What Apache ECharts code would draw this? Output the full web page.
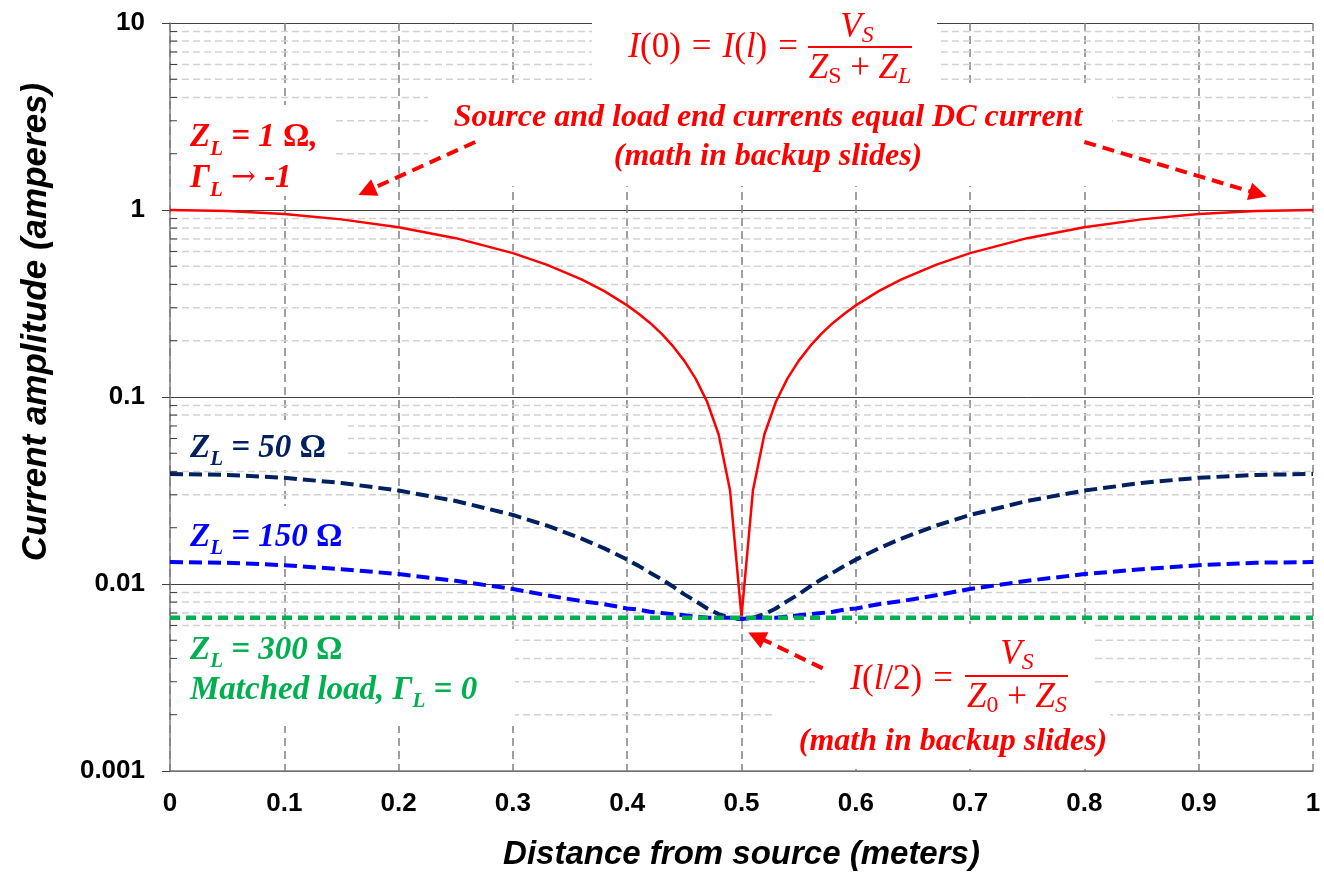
<!DOCTYPE html>
<html><head><meta charset="utf-8">
<script src="https://cdn.jsdelivr.net/npm/echarts@6/dist/echarts.min.js"></script>
<style>html,body{margin:0;padding:0;background:#fff}#c{width:1324px;height:878px}</style>
</head><body><div id="c"></div>
<script>
// ---- data ----
const distance = [0,0.05,0.1,0.15,0.2,0.25,0.3,0.33,0.36,0.38,0.4,0.41,0.42,0.43,0.44,0.45,0.46,0.47,0.48,0.49,0.5,0.51,0.52,0.53,0.54,0.55,0.56,0.57,0.58,0.59,0.6,0.62,0.64,0.67,0.7,0.75,0.8,0.85,0.9,0.95,1];
const zl1Ohm   = [1.0,0.988,0.951,0.891,0.809,0.707,0.588,0.509,0.426,0.368,0.309,0.279,0.249,0.218,0.187,0.156,0.125,0.094,0.063,0.0316,0.0067,0.0316,0.063,0.094,0.125,0.156,0.187,0.218,0.249,0.279,0.309,0.368,0.426,0.509,0.588,0.707,0.809,0.891,0.951,0.988,1.0];
const zl50Ohm  = [0.0388,0.0383,0.0370,0.0347,0.0316,0.0278,0.0234,0.0205,0.0175,0.0155,0.0135,0.0125,0.0115,0.0106,0.0097,0.0088,0.0081,0.0074,0.0069,0.0066,0.0065,0.0066,0.0069,0.0074,0.0081,0.0088,0.0097,0.0106,0.0115,0.0125,0.0135,0.0155,0.0175,0.0205,0.0234,0.0278,0.0316,0.0347,0.0370,0.0383,0.0388];
const zl150Ohm = [0.0131,0.0130,0.0126,0.0120,0.0113,0.0104,0.0094,0.0087,0.0081,0.0078,0.0074,0.0073,0.0071,0.0070,0.0069,0.0068,0.0067,0.0066,0.0066,0.0066,0.0065,0.0066,0.0066,0.0066,0.0067,0.0068,0.0069,0.0070,0.0071,0.0073,0.0074,0.0078,0.0081,0.0087,0.0094,0.0104,0.0113,0.0120,0.0126,0.0130,0.0131];
const zl300Ohm = distance.map(() => 0.0066); // flat matched-load line read at 0.0066 A
const yTickLabels = ['0.001','0.01','0.1','1','10'];
const yMinorValues = [0.002,0.003,0.004,0.005,0.006,0.007,0.008,0.009,0.02,0.03,0.04,0.05,0.06,0.07,0.08,0.09,0.2,0.3,0.4,0.5,0.6,0.7,0.8,0.9,2,3,4,5,6,7,8,9];
// annotation arrows (tail, head) in data coordinates
const arrows = [
  [[0.267, 2.31], [0.172, 1.26]],
  [[0.800, 2.31], [0.952, 1.22]],
  [[0.571, 0.00354], [0.513, 0.00525]]
];

const pair = ys => distance.map((x, i) => [x, ys[i]]);
const RED = '#ff0000', NAVY = '#002060', BLUE = '#0000ff', GREEN = '#00b050';
const SERIF = 'Liberation Serif', SANS = 'Liberation Sans';

function subRich(color, size, sub, lh) {
  const base = {fill: color, fontFamily: SERIF, fontWeight: 'bold', fontStyle: 'italic', fontSize: size, lineHeight: lh};
  return {
    m: base,
    o: Object.assign({}, base, {fontStyle: 'normal'}),
    ar: {fill: color, fontFamily: 'DejaVu Serif', fontSize: size * 0.9, lineHeight: lh},
    s: Object.assign({}, base, {fontSize: sub, padding: [24, 0, 0, 0]})
  };
}
function mathRich(size) {
  return {
    it: {fill: RED, fontFamily: SERIF, fontStyle: 'italic', fontSize: size},
    up: {fill: RED, fontFamily: SERIF, fontSize: size},
    eq: {fill: RED, fontFamily: SERIF, fontSize: size, padding: [0, 11, 0, 11]},
    si: {fill: RED, fontFamily: SERIF, fontStyle: 'italic', fontSize: size * 0.68, padding: [15, 0, 0, 0]},
    su: {fill: RED, fontFamily: SERIF, fontSize: size * 0.68, padding: [15, 0, 0, 0]}
  };
}
function box(x1, y1, x2, y2) {
  return {type: 'rect', z: 1, silent: true, shape: {x: x1, y: y1, width: x2 - x1, height: y2 - y1}, style: {fill: '#fff'}};
}
function txt(x, y, text, rich, align, va, extra) {
  return {type: 'text', z: 10, silent: true, x: x, y: y,
    style: Object.assign({text: text, rich: rich, align: align, verticalAlign: va}, extra || {})};
}

const chart = echarts.init(document.getElementById('c'), null, {renderer: 'canvas'});
const labelFont = {fontFamily: SANS, fontSize: 26, fontWeight: 'bold', color: '#000'};
const nameFont = {fontFamily: SANS, fontSize: 33, fontWeight: 'bold', fontStyle: 'italic', color: '#000'};

chart.setOption({
  animation: false,
  backgroundColor: '#fff',
  grid: {left: 170, right: 11, top: 23, bottom: 107},
  xAxis: {
    type: 'value', min: 0, max: 1, interval: 0.1,
    name: 'Distance from source (meters)', nameLocation: 'middle', nameGap: 67,
    nameTextStyle: nameFont,
    axisLine: {lineStyle: {color: '#7f7f7f', width: 1.5}},
    axisTick: {show: false},
    axisLabel: Object.assign({margin: 20}, labelFont),
    splitLine: {show: true, lineStyle: {color: '#808080', width: 1.5, type: [8, 5]}}
  },
  yAxis: {
    type: 'log', logBase: 10, min: 0.001, max: 10,
    name: 'Current amplitude (amperes)', nameLocation: 'middle', nameGap: 116,
    nameTextStyle: {fontFamily: SANS, fontSize: 35, fontWeight: 'bold', fontStyle: 'italic', color: '#000', padding: [0, 0, 0, 150]},
    axisLine: {show: true, lineStyle: {color: '#7f7f7f', width: 1.5}},
    axisTick: {show: true, length: 8, lineStyle: {color: '#404040', width: 1}},
    axisLabel: Object.assign({margin: 25, formatter: v => yTickLabels[Math.round(Math.log10(v)) + 3]}, labelFont),
    splitLine: {show: true, lineStyle: {color: '#404040', width: 1}},
    minorTick: {show: false}, minorSplitLine: {show: false}
  },
  series: [
    {
      type: 'custom', z: 0, silent: true, clip: false,
      data: yMinorValues.map(v => [0, v]), encode: {x: 0, y: 1},
      renderItem: (p, api) => {
        const a = api.coord([0, api.value(1)]), b = api.coord([1, api.value(1)]);
        return {type: 'line', shape: {x1: a[0] + 1, y1: a[1], x2: b[0], y2: b[1]},
          style: {stroke: '#d2d2d2', lineWidth: 1.5, lineDash: [7, 4]}};
      }
    },
    {
      type: 'custom', z: 5, silent: true, clip: false,
      data: yMinorValues.map(v => [0, v]), encode: {x: 0, y: 1},
      renderItem: (p, api) => {
        const a = api.coord([0, api.value(1)]);
        return {type: 'line', shape: {x1: a[0], y1: a[1], x2: a[0] + 7, y2: a[1]},
          style: {stroke: '#404040', lineWidth: 1}};
      }
    },
    {
      name: 'ZL = 1', type: 'line', z: 2, data: pair(zl1Ohm), showSymbol: false, symbol: 'none',
      lineStyle: {color: RED, width: 2.5},
      markLine: {
        silent: true, symbol: ['none', 'triangle'], symbolSize: [18, 18], label: {show: false},
        lineStyle: {color: RED, width: 4, type: [12, 7]},
        emphasis: {disabled: true},
        data: arrows.map(a => [{coord: a[0]}, {coord: a[1]}])
      }
    },
    {name: 'ZL = 50', type: 'line', z: 3, data: pair(zl50Ohm), symbol: 'none', lineStyle: {color: NAVY, width: 4, type: [13, 6]}},
    {name: 'ZL = 150', type: 'line', z: 3, data: pair(zl150Ohm), symbol: 'none', lineStyle: {color: BLUE, width: 4, type: [13, 6]}},
    {name: 'ZL = 300', type: 'line', z: 4, data: pair(zl300Ohm), symbol: 'none', lineStyle: {color: GREEN, width: 4.5, type: [10, 6]}}
  ],
  graphic: [
    // white backgrounds of the text boxes (hide grid lines)
    box(592, 4, 937, 83), box(428, 83, 1112, 186), box(172, 105, 335, 196),
    box(172, 420, 348, 470), box(172, 506, 352, 556), box(172, 630, 515, 726),
    box(815, 624, 1093, 705), box(773, 705, 1110, 769),
    // top formula I(0) = I(l) = Vs / (Zs + ZL)
    txt(809, 48, '{it|I}{up|(0)}{eq|=}{it|I}{up|(}{it|l}{up|)}{eq|=}', mathRich(35), 'right', 'middle'),
    txt(857, 28, '{it|V}{si|S}', mathRich(35), 'center', 'middle'),
    {type: 'line', z: 10, silent: true, shape: {x1: 808, y1: 47, x2: 912, y2: 47}, style: {stroke: RED, lineWidth: 2}},
    txt(860, 69, '{it|Z}{su|S}{up| + }{it|Z}{si|L}', mathRich(35), 'center', 'middle'),
    // source / load annotation
    txt(768, 98, 'Source and load end currents equal DC current\n(math in backup slides)', null, 'center', 'top',
      {fill: RED, fontFamily: SERIF, fontWeight: 'bold', fontStyle: 'italic', fontSize: 32, lineHeight: 39}),
    // ZL = 1 ohm
    txt(190, 117, '{m|Z}{s|L}{m| = 1 }{o|Ω}{m|,}\n{m|Γ}{s|L}{m| }{ar|→}{m| -1}', subRich(RED, 33, 21, 41), 'left', 'top'),
    txt(190, 448, '{m|Z}{s|L}{m| = 50 }{o|Ω}', subRich(NAVY, 33, 21, 41), 'left', 'middle'),
    txt(190, 537, '{m|Z}{s|L}{m| = 150 }{o|Ω}', subRich(BLUE, 33, 21, 41), 'left', 'middle'),
    txt(190, 630, '{m|Z}{s|L}{m| = 300 }{o|Ω}\n{m|Matched load, Γ}{s|L}{m| = 0}', subRich(GREEN, 33, 21, 40), 'left', 'top'),
    // bottom formula I(l/2) = Vs / (Z0 + Zs)
    txt(964, 680, '{it|I}{up|(}{it|l}{up|/2)}{eq|=}', mathRich(35), 'right', 'middle'),
    txt(1017, 655, '{it|V}{si|S}', mathRich(35), 'center', 'middle'),
    {type: 'line', z: 10, silent: true, shape: {x1: 965, y1: 676, x2: 1068, y2: 676}, style: {stroke: RED, lineWidth: 2}},
    txt(1017, 698, '{it|Z}{su|0}{up| + }{it|Z}{si|S}', mathRich(35), 'center', 'middle'),
    txt(953, 742, '(math in backup slides)', null, 'center', 'middle',
      {fill: RED, fontFamily: SERIF, fontWeight: 'bold', fontStyle: 'italic', fontSize: 32})
  ]
});
</script></body></html>
